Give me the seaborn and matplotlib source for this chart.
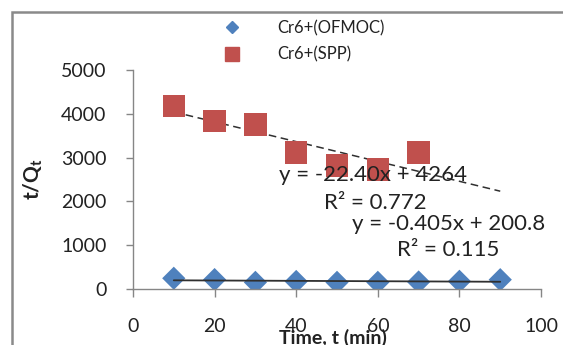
import numpy as np
import pandas as pd
import matplotlib
matplotlib.use("Agg")
import matplotlib.pyplot as plt
import seaborn as sns
from matplotlib.patches import Rectangle
from matplotlib.lines import Line2D

# ---- data ----
time_ofmoc = [10, 20, 30, 40, 50, 60, 70, 80, 90]
tq_ofmoc = [245, 215, 152, 172, 152, 152, 160, 176, 213]
time_spp = [10, 20, 30, 40, 50, 60, 70]
tq_spp = [4175, 3840, 3755, 3115, 2820, 2730, 3115]
series_names = ["Cr6+(OFMOC)", "Cr6+(SPP)"]
eq_ofmoc = ["y = -0.405x + 200.8", "R² = 0.115"]
eq_spp = ["y = -22.40x + 4264", "R² = 0.772"]
x_ticks = [0, 20, 40, 60, 80, 100]
y_ticks = [0, 1000, 2000, 3000, 4000, 5000]

df = pd.concat([
    pd.DataFrame({"t": time_ofmoc, "v": tq_ofmoc, "s": series_names[0]}),
    pd.DataFrame({"t": time_spp, "v": tq_spp, "s": series_names[1]}),
], ignore_index=True)

sns.set_style("white")
plt.rcParams["font.family"] = ["Lato", "DejaVu Sans"]

fig = plt.figure(figsize=(5.63, 3.45), dpi=100)
ax = fig.add_axes([0.2362, 0.1623, 0.7248, 0.6348])

blue = "#4F81BD"
red = "#C0504D"
grey = "#868686"
txt = "#222222"

# trendlines (fitted from the data), extended to x = 90
xs = np.array([10, 90])
p1 = np.polyfit(time_ofmoc, tq_ofmoc, 1)
p2 = np.polyfit(time_spp, tq_spp, 1)
fit1 = pd.DataFrame({"t": xs, "v": np.polyval(p1, xs)})
fit2 = pd.DataFrame({"t": xs, "v": np.polyval(p2, xs)})
sns.lineplot(data=fit1, x="t", y="v", ax=ax, color="#303030", lw=1.3,
             legend=False, zorder=3)
sns.lineplot(data=fit2, x="t", y="v", ax=ax, color="#303030", lw=1.1,
             legend=False, zorder=1, linestyle=(0, (5, 3)))

sns.scatterplot(data=df, x="t", y="v", hue="s", style="s",
                palette={series_names[0]: blue, series_names[1]: red},
                markers={series_names[0]: "D", series_names[1]: "s"},
                s=170, edgecolor="none", ax=ax, zorder=2, legend=False)
coll = ax.collections[-1]
coll.set_sizes(np.where(df.s == series_names[0], 140, 260))

ax.set_xlim(0, 100)
ax.set_ylim(0, 5000)
ax.set_xticks(x_ticks)
ax.set_yticks(y_ticks)
ax.tick_params(axis="y", direction="out", length=5, width=1, color=grey,
               labelsize=14, pad=14, left=True, labelcolor=txt)
ax.tick_params(axis="x", direction="out", length=6, width=1, color=grey,
               labelsize=14, pad=15, bottom=True, labelcolor=txt)
for sp in ["top", "right"]:
    ax.spines[sp].set_visible(False)
for sp in ["left", "bottom"]:
    ax.spines[sp].set_color(grey)
    ax.spines[sp].set_linewidth(1)

ax.set_xlabel("Time, t (min)", fontsize=14, fontweight="bold", color=txt)
ax.set_ylabel("t/Q$_\\mathregular{t}$", fontsize=15, fontweight="bold", color=txt)
ax.xaxis.set_label_coords(0.49, -0.225)
ax.xaxis.label.set_va("center")
ax.yaxis.set_label_coords(-0.216, 0.5)

# equations
ax.text(58.9, 2603, eq_spp[0], fontsize=16, ha="center", va="center", color=txt)
ax.text(59.4, 1963, eq_spp[1], fontsize=16, ha="center", va="center", color=txt)
ax.text(77.3, 1484, eq_ofmoc[0], fontsize=16, ha="center", va="center", color=txt)
ax.text(77.3, 890, eq_ofmoc[1], fontsize=16, ha="center", va="center", color=txt)

# legend (above the plot)
handles = [Line2D([], [], ls="none", marker="D", color=blue, markersize=6),
           Line2D([], [], ls="none", marker="s", color=red, markersize=9.5)]
fig.legend(handles, series_names, loc="upper left", bbox_to_anchor=(0.355, 0.985),
           frameon=False, fontsize=12, handletextpad=1.75, labelspacing=0.6,
           labelcolor=txt)

# outer chart border
fig.add_artist(Rectangle((12 / 563, -0.1), 0.98, 1 - 12 / 345 + 0.1,
                         transform=fig.transFigure, fill=False,
                         edgecolor="#8a8a8a", lw=1.8))

fig.savefig("out.png", dpi=100)
